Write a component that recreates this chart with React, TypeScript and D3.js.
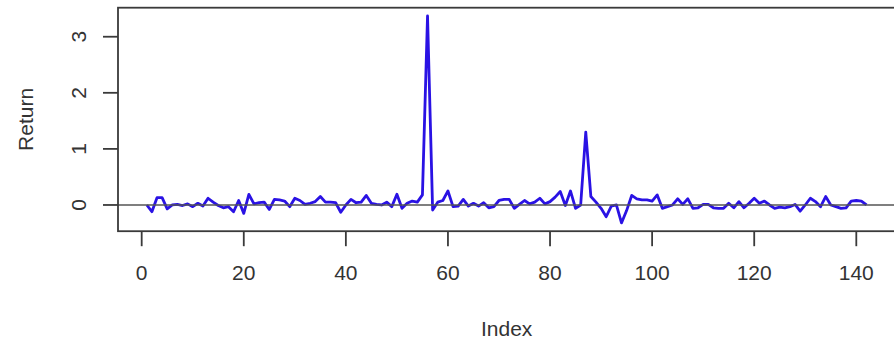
import React, { useRef, useEffect } from "react";
import * as d3 from "d3";

// Return series (index 1..n)
const returns = [
  0.0, -0.12, 0.13, 0.13, -0.07, 0.0, 0.01, -0.01, 0.02, -0.03,
  0.03, -0.02, 0.12, 0.05, -0.01, -0.05, -0.03, -0.12, 0.08, -0.15,
  0.19, 0.02, 0.04, 0.05, -0.08, 0.1, 0.09, 0.07, -0.03, 0.12,
  0.08, 0.01, 0.03, 0.06, 0.15, 0.05, 0.05, 0.04, -0.13, 0.0,
  0.1, 0.04, 0.05, 0.17, 0.03, 0.01, 0.0, 0.05, -0.03, 0.19,
  -0.06, 0.03, 0.07, 0.05, 0.18, 3.37, -0.09, 0.05, 0.08, 0.25,
  -0.03, -0.02, 0.1, -0.02, 0.03, -0.02, 0.04, -0.05, -0.03, 0.08,
  0.1, 0.1, -0.06, 0.01, 0.08, 0.02, 0.05, 0.12, 0.02, 0.06,
  0.14, 0.24, -0.01, 0.25, -0.06, 0.0, 1.3, 0.15, 0.05, -0.06,
  -0.21, -0.02, 0.0, -0.32, -0.1, 0.17, 0.11, 0.09, 0.09, 0.07,
  0.18, -0.06, -0.03, 0.0, 0.11, 0.01, 0.11, -0.06, -0.05, 0.01,
  0.01, -0.05, -0.06, -0.06, 0.03, -0.05, 0.06, -0.05, 0.03, 0.12,
  0.03, 0.07, 0.0, -0.06, -0.04, -0.05, -0.03, 0.01, -0.11, 0.0,
  0.12, 0.06, -0.03, 0.15, 0.0, -0.03, -0.06, -0.05, 0.07, 0.08,
  0.07, 0.0,
];

const xTicks = [0, 20, 40, 60, 80, 100, 120, 140];
const yTicks = [0, 1, 2, 3];

const W = 894;
const H = 345;
const FONT = "'Liberation Sans', Arial, Helvetica, sans-serif";
const FONT_SIZE = 21;

// R pads each axis range by 4%
const padRange = (lo: number, hi: number): [number, number] => {
  const p = (hi - lo) * 0.04;
  return [lo - p, hi + p];
};

const ReturnChart: React.FC = () => {
  const svgRef = useRef<SVGSVGElement>(null);

  useEffect(() => {
    if (!svgRef.current) return;
    const svg = d3.select(svgRef.current);
    svg.selectAll("*").remove();

    const idx = d3.range(1, returns.length + 1);
    const data = idx.map((i, k) => ({ i, v: returns[k] }));

    const left = 118;
    const right = 895.3;
    const top = 7.7;
    const bottom = 231.2;

    const x = d3
      .scaleLinear()
      .domain(padRange(1, returns.length))
      .range([left, right]);
    const y = d3
      .scaleLinear()
      .domain(padRange(d3.min(returns) as number, d3.max(returns) as number))
      .range([bottom, top]);

    const ink = "#3a3a3a";

    // series
    const line = d3
      .line<{ i: number; v: number }>()
      .x((d) => x(d.i))
      .y((d) => y(d.v));
    svg
      .append("path")
      .datum(data)
      .attr("d", line)
      .attr("fill", "none")
      .attr("stroke", "#2a12e4")
      .attr("stroke-width", 2.8)
      .attr("stroke-linejoin", "round");

    // abline h = 0
    svg
      .append("line")
      .attr("x1", left)
      .attr("x2", right)
      .attr("y1", y(0))
      .attr("y2", y(0))
      .attr("stroke", "#555")
      .attr("stroke-width", 1.6);

    // box
    svg
      .append("rect")
      .attr("x", left)
      .attr("y", top)
      .attr("width", right - left)
      .attr("height", bottom - top)
      .attr("fill", "none")
      .attr("stroke", ink)
      .attr("stroke-width", 1.8);

    // x axis
    const gx = svg.append("g");
    gx.selectAll("line")
      .data(xTicks)
      .enter()
      .append("line")
      .attr("x1", (d) => x(d))
      .attr("x2", (d) => x(d))
      .attr("y1", bottom)
      .attr("y2", bottom + 15)
      .attr("stroke", ink)
      .attr("stroke-width", 1.8);
    gx.selectAll("text")
      .data(xTicks)
      .enter()
      .append("text")
      .attr("x", (d) => x(d))
      .attr("y", 272)
      .attr("text-anchor", "middle")
      .attr("dominant-baseline", "central")
      .attr("font-family", FONT)
      .attr("font-size", FONT_SIZE)
      .attr("fill", "#333")
      .text((d) => String(d));

    // y axis
    const gy = svg.append("g");
    gy.selectAll("line")
      .data(yTicks)
      .enter()
      .append("line")
      .attr("x1", left - 15)
      .attr("x2", left)
      .attr("y1", (d) => y(d))
      .attr("y2", (d) => y(d))
      .attr("stroke", ink)
      .attr("stroke-width", 1.8);
    gy.selectAll("text")
      .data(yTicks)
      .enter()
      .append("text")
      .attr("transform", (d) => `translate(78.5,${y(d)}) rotate(-90)`)
      .attr("text-anchor", "middle")
      .attr("dominant-baseline", "central")
      .attr("font-family", FONT)
      .attr("font-size", FONT_SIZE)
      .attr("fill", "#333")
      .text((d) => String(d));

    // axis titles
    svg
      .append("text")
      .attr("x", (left + right) / 2)
      .attr("y", 328)
      .attr("text-anchor", "middle")
      .attr("dominant-baseline", "central")
      .attr("font-family", FONT)
      .attr("font-size", FONT_SIZE)
      .attr("fill", "#333")
      .text("Index");
    svg
      .append("text")
      .attr("transform", `translate(25,${(top + bottom) / 2}) rotate(-90)`)
      .attr("text-anchor", "middle")
      .attr("dominant-baseline", "central")
      .attr("font-family", FONT)
      .attr("font-size", FONT_SIZE)
      .attr("fill", "#333")
      .text("Return");
  }, []);

  return (
    <svg
      ref={svgRef}
      width={W}
      height={H}
      style={{ display: "block", background: "#fff" }}
    />
  );
};

export default function App() {
  return (
    <div style={{ position: "fixed", left: 0, top: 0 }}>
      <ReturnChart />
    </div>
  );
}
